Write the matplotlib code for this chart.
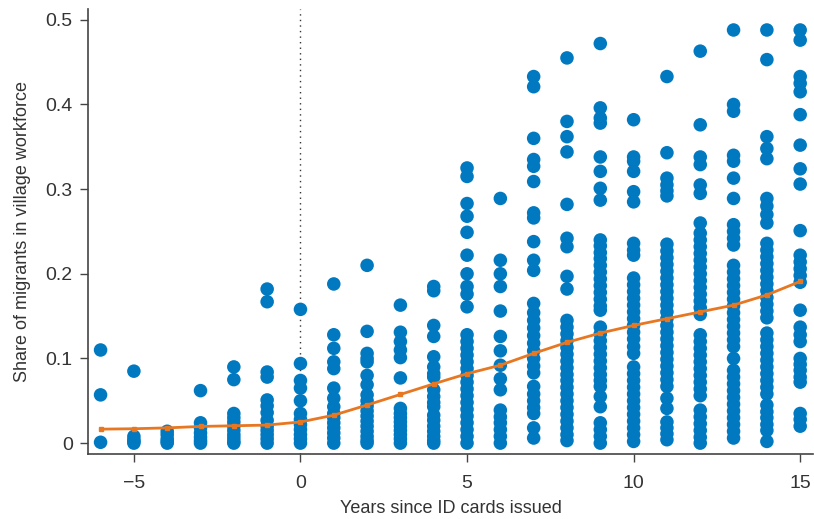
import numpy as np
import matplotlib.pyplot as plt

plt.rcParams['font.family'] = ['Liberation Sans', 'DejaVu Sans']

# share of migrants by years since ID cards issued
years = list(range(-6, 16))
shares = {
    -6: [0.11, 0.057, 0.001],
    -5: [0.085, 0.008, 0.004, 0.0, 0.002],
    -4: [0.014, 0.01, 0.005, 0.002, 0.0],
    -3: [0.062, 0.024, 0.018, 0.012, 0.007, 0.003, 0.0],
    -2: [0.09, 0.075, 0.035, 0.03, 0.025, 0.02, 0.015, 0.01, 0.006, 0.002, 0.0],
    -1: [0.182, 0.167, 0.084, 0.078, 0.051, 0.044, 0.036, 0.027, 0.02, 0.015,
         0.01, 0.005, 0.0],
    0: [0.158, 0.094, 0.074, 0.065, 0.05, 0.035, 0.028, 0.022, 0.016, 0.01,
        0.005, 0.0],
    1: [0.188, 0.128, 0.112, 0.096, 0.088, 0.065, 0.053, 0.043, 0.035, 0.03,
        0.024, 0.018, 0.012, 0.006, 0.0],
    2: [0.21, 0.132, 0.106, 0.1, 0.096, 0.08, 0.069, 0.057, 0.05, 0.044, 0.038,
        0.032, 0.026, 0.02, 0.014, 0.008, 0.003, 0.0],
    3: [0.163, 0.131, 0.12, 0.11, 0.101, 0.077, 0.041, 0.035, 0.03, 0.025,
        0.02, 0.015, 0.01, 0.005, 0.0],
    4: [0.185, 0.18, 0.139, 0.126, 0.102, 0.09, 0.082, 0.078, 0.063, 0.055,
        0.048, 0.043, 0.033, 0.027, 0.02, 0.014, 0.008, 0.003, 0.0],
    5: [0.325, 0.315, 0.283, 0.268, 0.249, 0.222, 0.2, 0.185, 0.176, 0.161,
        0.128, 0.12, 0.112, 0.104, 0.096, 0.088, 0.08, 0.072, 0.064, 0.056,
        0.048, 0.04, 0.032, 0.024, 0.016, 0.008, 0.0],
    6: [0.289, 0.216, 0.2, 0.185, 0.156, 0.126, 0.109, 0.092, 0.076, 0.063,
        0.039, 0.031, 0.024, 0.016, 0.008, 0.0],
    7: [0.433, 0.421, 0.36, 0.335, 0.327, 0.309, 0.272, 0.266, 0.238, 0.216,
        0.204, 0.165, 0.154, 0.145, 0.136, 0.127, 0.118, 0.109, 0.1, 0.091,
        0.083, 0.067, 0.058, 0.05, 0.042, 0.035, 0.018, 0.006],
    8: [0.455, 0.38, 0.362, 0.344, 0.282, 0.242, 0.232, 0.197, 0.182, 0.145,
        0.137, 0.129, 0.121, 0.113, 0.105, 0.097, 0.089, 0.081, 0.074, 0.066,
        0.058, 0.05, 0.042, 0.034, 0.026, 0.018, 0.01, 0.003],
    9: [0.472, 0.396, 0.384, 0.378, 0.338, 0.321, 0.301, 0.287, 0.24, 0.233,
        0.225, 0.218, 0.21, 0.202, 0.194, 0.186, 0.178, 0.17, 0.162, 0.157,
        0.137, 0.129, 0.121, 0.113, 0.105, 0.097, 0.089, 0.081, 0.074, 0.067,
        0.055, 0.043, 0.024, 0.016, 0.008, 0.0],
    10: [0.382, 0.338, 0.333, 0.321, 0.297, 0.285, 0.236, 0.228, 0.222, 0.195,
         0.187, 0.179, 0.171, 0.163, 0.155, 0.147, 0.139, 0.131, 0.123, 0.114,
         0.106, 0.09, 0.082, 0.074, 0.066, 0.058, 0.05, 0.042, 0.034, 0.026,
         0.018, 0.01, 0.002],
    11: [0.433, 0.343, 0.313, 0.305, 0.298, 0.292, 0.235, 0.227, 0.219, 0.211,
         0.203, 0.195, 0.187, 0.179, 0.171, 0.163, 0.155, 0.147, 0.139, 0.131,
         0.123, 0.115, 0.107, 0.099, 0.091, 0.083, 0.075, 0.067, 0.053, 0.041,
         0.025, 0.018, 0.011, 0.004],
    12: [0.463, 0.376, 0.338, 0.329, 0.305, 0.295, 0.26, 0.248, 0.24, 0.232,
         0.224, 0.216, 0.208, 0.2, 0.192, 0.184, 0.176, 0.168, 0.16, 0.152,
         0.128, 0.12, 0.112, 0.104, 0.096, 0.088, 0.08, 0.072, 0.064, 0.056,
         0.039, 0.031, 0.023, 0.015, 0.007, 0.0],
    13: [0.488, 0.4, 0.392, 0.34, 0.333, 0.313, 0.289, 0.258, 0.25, 0.242,
         0.234, 0.21, 0.202, 0.194, 0.186, 0.178, 0.17, 0.162, 0.154, 0.146,
         0.138, 0.13, 0.122, 0.114, 0.1, 0.086, 0.078, 0.07, 0.062, 0.054,
         0.046, 0.038, 0.03, 0.022, 0.014, 0.006],
    14: [0.488, 0.453, 0.362, 0.348, 0.336, 0.289, 0.28, 0.27, 0.26, 0.236,
         0.228, 0.22, 0.212, 0.204, 0.196, 0.188, 0.18, 0.172, 0.164, 0.156,
         0.148, 0.13, 0.122, 0.114, 0.106, 0.098, 0.09, 0.082, 0.074, 0.066,
         0.058, 0.045, 0.037, 0.03, 0.022, 0.015, 0.002],
    15: [0.488, 0.476, 0.433, 0.425, 0.415, 0.388, 0.352, 0.324, 0.306, 0.251,
         0.222, 0.214, 0.206, 0.198, 0.19, 0.157, 0.137, 0.128, 0.12, 0.1,
         0.093, 0.086, 0.078, 0.072, 0.035, 0.028, 0.02],
}

# smoothed trend
trend = [0.0165, 0.017, 0.018, 0.0197, 0.0205, 0.0213, 0.025, 0.033, 0.045,
         0.0575, 0.07, 0.082, 0.092, 0.106, 0.119, 0.13, 0.139, 0.147, 0.155,
         0.163, 0.175, 0.191]

blue = '#0079C1'
orange = '#E87722'

fig = plt.figure(figsize=(8.14, 5.19), dpi=100)
ax = fig.add_axes([0.108, 0.125, 0.891, 0.858])

xs = np.concatenate([[y] * len(shares[y]) for y in years])
ys = np.concatenate([shares[y] for y in years])
ax.scatter(xs, ys, s=95, color=blue, edgecolors='none', zorder=2)

ax.plot(years, trend, color=orange, lw=2, marker='s', markersize=3, zorder=3)
ax.axvline(0, color='#333333', lw=1, linestyle=(0, (1, 3)), zorder=1)

ax.set_xlim(-6.38, 15.39)
ax.set_ylim(-0.013, 0.513)
ax.set_xticks([-5, 0, 5, 10, 15])
ax.set_xticklabels(['\u22125', '0', '5', '10', '15'])
ax.set_yticks([0, 0.1, 0.2, 0.3, 0.4, 0.5])
ax.set_yticklabels(['0', '0.1', '0.2', '0.3', '0.4', '0.5'])

for side in ['top', 'right']:
    ax.spines[side].set_visible(False)
for side in ['left', 'bottom']:
    ax.spines[side].set_color('#444444')
    ax.spines[side].set_linewidth(1.2)
ax.tick_params(direction='out', length=6, width=1, color='#444444',
               labelsize=14, labelcolor='#333333')
ax.tick_params(axis='x', pad=9)
ax.tick_params(axis='y', pad=5)

ax.set_xlabel('Years since ID cards issued', fontsize=13, color='#333333',
              labelpad=6)
ax.set_ylabel('Share of migrants in village workforce', fontsize=13,
              color='#333333', labelpad=10)

fig.savefig('out.png', dpi=100)
